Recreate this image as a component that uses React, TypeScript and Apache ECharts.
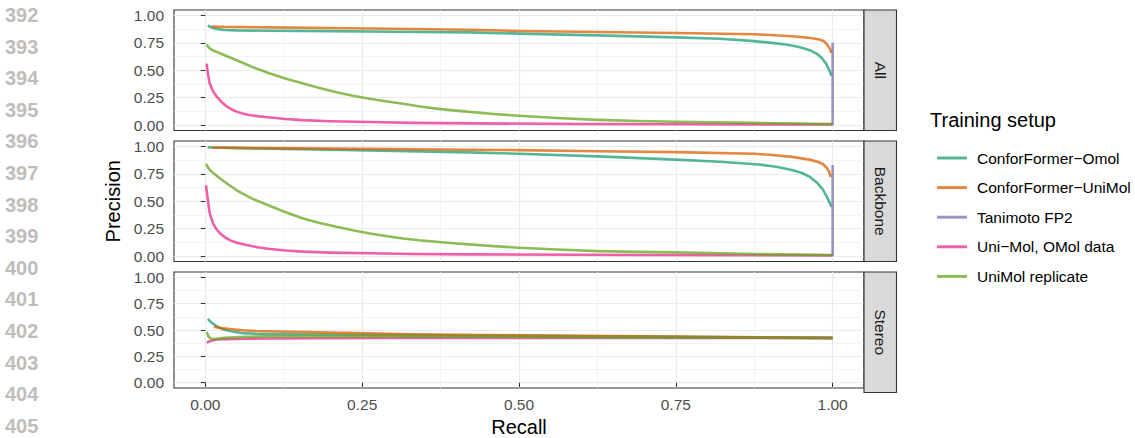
import React, { useEffect, useRef } from "react";
import * as echarts from "echarts";

const panels = ["All", "Backbone", "Stereo"];
const setups = [
  "ConforFormer−Omol",
  "ConforFormer−UniMol",
  "Tanimoto FP2",
  "Uni−Mol, OMol data",
  "UniMol replicate",
];
const setupColors = [
  "rgba(27,158,119,0.75)",
  "rgba(217,95,2,0.75)",
  "rgba(117,112,179,0.75)",
  "rgba(231,41,138,0.75)",
  "rgba(102,166,30,0.75)",
];
const majorTicks = [0, 0.25, 0.5, 0.75, 1];
const minorTicks = [0.125, 0.375, 0.625, 0.875];
const lineNumbers = ["392", "393", "394", "395", "396", "397", "398", "399", "400", "401", "402", "403", "404", "405"];

// ---- Panel "All" ----
const allConforOmol = [
  [0.004, 0.91], [0.008, 0.895], [0.015, 0.88], [0.03, 0.868], [0.05, 0.864], [0.1, 0.861],
  [0.2, 0.857], [0.3, 0.852], [0.42, 0.846], [0.5, 0.834], [0.625, 0.818], [0.75, 0.8],
  [0.82, 0.787], [0.87, 0.768], [0.9, 0.752], [0.925, 0.735], [0.945, 0.715], [0.965, 0.68],
  [0.975, 0.65], [0.983, 0.61], [0.989, 0.565], [0.994, 0.51], [0.998, 0.45],
];
const allConforUniMol = [
  [0.01, 0.9], [0.03, 0.896], [0.1, 0.891], [0.2, 0.886], [0.3, 0.879], [0.42, 0.87], [0.5, 0.858],
  [0.625, 0.849], [0.75, 0.84], [0.875, 0.828], [0.9, 0.822], [0.94, 0.808], [0.965, 0.795],
  [0.979, 0.78], [0.986, 0.765], [0.99, 0.745], [0.993, 0.72], [0.996, 0.69], [0.998, 0.66],
];
const allTanimoto = [[1.0, 0.0], [1.0, 0.75]];
const allUniMolOMol = [
  [0.002, 0.56], [0.004, 0.47], [0.007, 0.38], [0.012, 0.31], [0.018, 0.26], [0.025, 0.215],
  [0.034, 0.17], [0.042, 0.142], [0.05, 0.122], [0.06, 0.104], [0.07, 0.092], [0.085, 0.079],
  [0.103, 0.068], [0.128, 0.055], [0.155, 0.045], [0.2, 0.035], [0.262, 0.027], [0.33, 0.02],
  [0.42, 0.015], [0.6, 0.01], [0.8, 0.007], [1.0, 0.005],
];
const allUniMolRep = [
  [0.002, 0.735], [0.005, 0.71], [0.008, 0.695], [0.012, 0.682], [0.025, 0.65], [0.05, 0.591],
  [0.075, 0.53], [0.103, 0.47], [0.13, 0.42], [0.156, 0.38], [0.182, 0.338], [0.209, 0.3],
  [0.235, 0.268], [0.262, 0.24], [0.29, 0.215], [0.315, 0.194], [0.34, 0.172], [0.368, 0.15],
  [0.395, 0.134], [0.421, 0.12], [0.46, 0.101], [0.5, 0.085], [0.56, 0.064], [0.625, 0.047],
  [0.69, 0.037], [0.75, 0.03], [0.875, 0.02], [1.0, 0.01],
];

// ---- Panel "Backbone" ----
const bbConforOmol = [
  [0.0035, 0.994], [0.01, 0.99], [0.05, 0.985], [0.1, 0.98], [0.2, 0.97], [0.3, 0.96],
  [0.42, 0.946], [0.5, 0.933], [0.625, 0.91], [0.75, 0.88], [0.82, 0.86], [0.883, 0.835],
  [0.91, 0.815], [0.935, 0.785], [0.95, 0.76], [0.963, 0.725], [0.975, 0.67], [0.984, 0.61],
  [0.99, 0.55], [0.995, 0.49], [0.998, 0.45],
];
const bbConforUniMol = [
  [0.01, 0.99], [0.05, 0.988], [0.1, 0.985], [0.2, 0.98], [0.3, 0.976], [0.42, 0.97],
  [0.5, 0.967], [0.625, 0.957], [0.75, 0.948], [0.875, 0.933], [0.9, 0.924], [0.935, 0.905],
  [0.963, 0.88], [0.976, 0.86], [0.984, 0.84], [0.99, 0.81], [0.994, 0.775], [0.997, 0.72],
];
const bbTanimoto = [[1.0, 0.0], [1.0, 0.83]];
const bbUniMolOMol = [
  [0.001, 0.645], [0.0045, 0.49], [0.007, 0.39], [0.012, 0.3], [0.017, 0.25], [0.023, 0.21],
  [0.03, 0.175], [0.039, 0.145], [0.05, 0.122], [0.066, 0.1], [0.083, 0.08], [0.103, 0.064],
  [0.128, 0.05], [0.156, 0.04], [0.2, 0.031], [0.262, 0.025], [0.33, 0.019], [0.42, 0.015],
  [0.7, 0.01], [1.0, 0.005],
];
const bbUniMolRep = [
  [0.001, 0.84], [0.005, 0.8], [0.01, 0.77], [0.023, 0.71], [0.036, 0.655], [0.05, 0.6],
  [0.076, 0.52], [0.103, 0.457], [0.129, 0.397], [0.156, 0.343], [0.182, 0.302], [0.209, 0.267],
  [0.235, 0.235], [0.262, 0.206], [0.29, 0.18], [0.315, 0.16], [0.34, 0.144], [0.368, 0.13],
  [0.395, 0.117], [0.42, 0.106], [0.46, 0.09], [0.5, 0.076], [0.56, 0.059], [0.625, 0.045],
  [0.69, 0.038], [0.75, 0.033], [0.875, 0.018], [1.0, 0.01],
];

// ---- Panel "Stereo" ----
const stConforOmol = [
  [0.004, 0.606], [0.008, 0.58], [0.012, 0.56], [0.017, 0.54], [0.023, 0.52], [0.03, 0.503],
  [0.039, 0.49], [0.06, 0.47], [0.08, 0.464], [0.108, 0.46], [0.25, 0.455], [0.5, 0.445],
  [0.75, 0.435], [1.0, 0.425],
];
const stConforUniMol = [
  [0.0135, 0.53], [0.025, 0.518], [0.039, 0.51], [0.06, 0.498], [0.08, 0.49], [0.16, 0.48],
  [0.24, 0.47], [0.33, 0.46], [0.5, 0.45], [0.75, 0.437], [1.0, 0.425],
];
const stTanimoto = [[1.0, 0.423], [1.0, 0.427]];
const stUniMolOMol = [
  [0.002, 0.38], [0.008, 0.395], [0.018, 0.41], [0.05, 0.415], [0.1, 0.42], [0.3, 0.425],
  [0.6, 0.425], [1.0, 0.423],
];
const stUniMolRep = [
  [0.002, 0.48], [0.005, 0.44], [0.008, 0.42], [0.015, 0.415], [0.03, 0.425], [0.055, 0.434],
  [0.1, 0.44], [0.25, 0.44], [0.5, 0.435], [0.75, 0.43], [1.0, 0.424],
];

const panelData = [
  [allConforOmol, allConforUniMol, allTanimoto, allUniMolOMol, allUniMolRep],
  [bbConforOmol, bbConforUniMol, bbTanimoto, bbUniMolOMol, bbUniMolRep],
  [stConforOmol, stConforUniMol, stTanimoto, stUniMolOMol, stUniMolRep],
];

const FONT = '"Liberation Sans", Arial, Helvetica, sans-serif';

export default function App() {
  const ref = useRef<HTMLDivElement>(null);

  useEffect(() => {
    if (!ref.current) return;
    const chart = echarts.init(ref.current, null, { renderer: "svg" });

    const gridLeft = 174;
    const gridWidth = 690;
    const gridTops = [10, 141, 272];
    const gridHeight = 120.5;
    const stripWidth = 32.5;

    const grids = gridTops.map((t) => ({
      left: gridLeft,
      top: t,
      width: gridWidth,
      height: gridHeight,
      show: true,
      backgroundColor: "#ffffff",
      borderColor: "#333333",
      borderWidth: 1.1,
      containLabel: false,
    }));

    const xAxes: any[] = [];
    const yAxes: any[] = [];
    panels.forEach((_, i) => {
      const isBottom = i === panels.length - 1;
      xAxes.push({
        type: "value",
        gridIndex: i,
        min: -0.05,
        max: 1.05,
        axisLine: { show: false },
        axisTick: {
          show: isBottom,
          length: 4.5,
          lineStyle: { color: "#333333", width: 1.1 },
          customValues: majorTicks,
        },
        axisLabel: {
          show: isBottom,
          customValues: majorTicks,
          formatter: (v: number) => v.toFixed(2),
          color: "#4D4D4D",
          fontSize: 15.5,
          fontFamily: FONT,
          margin: 8,
        },
        splitLine: { show: true, lineStyle: { color: "#EBEBEB", width: 1.2 } },
        name: isBottom ? "Recall" : "",
        nameLocation: "middle",
        nameGap: 29,
        nameTextStyle: { fontSize: 20, color: "#000000", fontFamily: FONT },
      });
      yAxes.push({
        type: "value",
        gridIndex: i,
        min: -0.05,
        max: 1.05,
        axisLine: { show: false },
        axisTick: {
          show: true,
          length: 4.5,
          lineStyle: { color: "#333333", width: 1.1 },
          customValues: majorTicks,
        },
        axisLabel: {
          show: true,
          customValues: majorTicks,
          formatter: (v: number) => v.toFixed(2),
          color: "#4D4D4D",
          fontSize: 15.5,
          fontFamily: FONT,
          margin: 10,
        },
        splitLine: { show: true, lineStyle: { color: "#EBEBEB", width: 1.2 } },
        name: i === 1 ? "Precision" : "",
        nameLocation: "middle",
        nameGap: 43,
        nameTextStyle: { fontSize: 20, color: "#000000", fontFamily: FONT },
      });
    });
    // minor grid axes
    panels.forEach((_, i) => {
      xAxes.push({
        type: "value",
        gridIndex: i,
        min: -0.05,
        max: 1.05,
        axisLine: { show: false },
        axisTick: { show: false, customValues: minorTicks },
        axisLabel: { show: false, customValues: minorTicks },
        splitLine: { show: true, lineStyle: { color: "#EFEFEF", width: 0.7 } },
      });
      yAxes.push({
        type: "value",
        gridIndex: i,
        min: -0.05,
        max: 1.05,
        axisLine: { show: false },
        axisTick: { show: false, customValues: minorTicks },
        axisLabel: { show: false, customValues: minorTicks },
        splitLine: { show: true, lineStyle: { color: "#EFEFEF", width: 0.7 } },
      });
    });

    const series: any[] = [];
    panels.forEach((_, p) => {
      setups.forEach((name, s) => {
        series.push({
          type: "line",
          name,
          xAxisIndex: p,
          yAxisIndex: p,
          data: panelData[p][s],
          symbol: "none",
          showSymbol: false,
          silent: true,
          smooth: false,
          z: 3,
          lineStyle: { width: 2.6, color: setupColors[s], cap: "butt", join: "round" },
          itemStyle: { color: setupColors[s] },
        });
      });
    });

    const graphics: any[] = [];
    panels.forEach((label, i) => {
      graphics.push({
        type: "rect",
        shape: { x: gridLeft + gridWidth, y: gridTops[i], width: stripWidth, height: gridHeight },
        style: { fill: "#D9D9D9", stroke: "#333333", lineWidth: 1.1 },
        z: 10,
      });
      graphics.push({
        type: "text",
        x: gridLeft + gridWidth + stripWidth / 2,
        y: gridTops[i] + gridHeight / 2,
        rotation: -Math.PI / 2,
        style: {
          text: label,
          fontSize: 15.5,
          fontFamily: FONT,
          fill: "#1A1A1A",
          align: "center",
          verticalAlign: "middle",
        },
        z: 11,
      });
    });
    lineNumbers.forEach((n, i) => {
      graphics.push({
        type: "text",
        x: 5,
        y: 15 + i * 31.6,
        style: {
          text: n,
          fontSize: 20,
          fontWeight: "bold",
          fontFamily: FONT,
          fill: "#BDBDBD",
          align: "left",
          verticalAlign: "middle",
        },
      });
    });
    graphics.push({
      type: "text",
      x: 930,
      y: 120,
      style: {
        text: "Training setup",
        fontSize: 20,
        fontFamily: FONT,
        fill: "#000000",
        align: "left",
        verticalAlign: "middle",
      },
    });

    chart.setOption({
      animation: false,
      backgroundColor: "#ffffff",
      grid: grids,
      xAxis: xAxes,
      yAxis: yAxes,
      series,
      legend: {
        data: setups,
        orient: "vertical",
        left: 932,
        top: 145,
        itemWidth: 30,
        itemHeight: 3,
        itemGap: 13.6,
        icon: "rect",
        selectedMode: false,
        textStyle: { fontSize: 15.5, color: "#000000", fontFamily: FONT, padding: [0, 0, 0, 5] },
      },
      graphic: graphics,
    });

    return () => chart.dispose();
  }, []);

  return (
    <div
      ref={ref}
      style={{ position: "fixed", left: 0, top: 0, width: 1135, height: 438 }}
    />
  );
}
